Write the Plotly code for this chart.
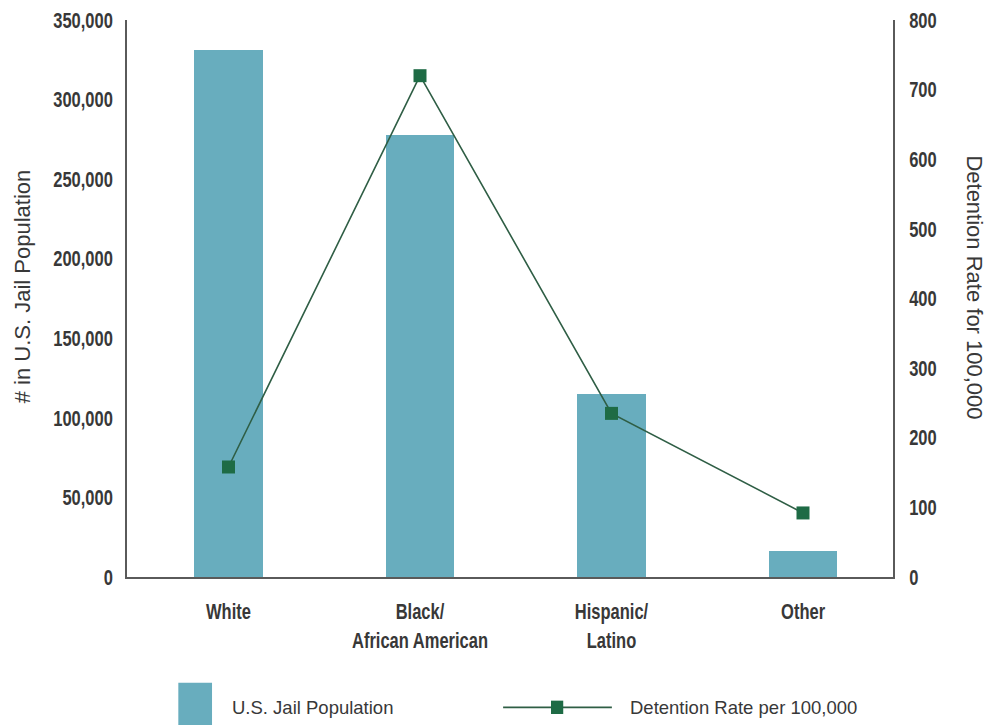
import plotly.graph_objects as go

# Data
categories = ["White", "Black/<br>African American", "Hispanic/<br>Latino", "Other"]
jail_population = [331000, 278000, 115000, 16500]
detention_rate = [158, 720, 235, 92]

left_ticks = [0, 50000, 100000, 150000, 200000, 250000, 300000, 350000]
right_ticks = [0, 100, 200, 300, 400, 500, 600, 700, 800]

BAR_COLOR = "#68adbe"
LINE_COLOR = "#2f5e45"
MARKER_COLOR = "#1e6b45"
AXIS_COLOR = "#5a5a5a"
TEXT_COLOR = "#383838"
BOLD = "Liberation Sans, Arial, sans-serif"
REGULAR = "Liberation Sans, Arial, sans-serif"

x_idx = list(range(len(categories)))

fig = go.Figure()
fig.add_trace(go.Bar(
    x=x_idx, y=jail_population, width=0.36,
    marker=dict(color=BAR_COLOR, line=dict(width=0)),
    name="U.S. Jail Population", yaxis="y",
))
fig.add_trace(go.Scatter(
    x=x_idx, y=detention_rate, mode="lines+markers",
    line=dict(color=LINE_COLOR, width=1.6),
    marker=dict(symbol="square", size=13, color=MARKER_COLOR),
    name="Detention Rate per 100,000", yaxis="y2",
))

tick_font = dict(family=BOLD, size=22, color=TEXT_COLOR, weight="bold")

fig.update_layout(
    width=996, height=725,
    margin=dict(l=127, r=103, t=20, b=148),
    paper_bgcolor="white", plot_bgcolor="white",
    showlegend=False,
    bargap=0,
    xaxis=dict(
        range=[-0.53, 3.47], automargin=False,
        tickmode="array", tickvals=x_idx, ticktext=categories,
        tickfont=tick_font, ticks="", ticklabelstandoff=14,
        showgrid=False, zeroline=False,
        showline=True, linecolor=AXIS_COLOR, linewidth=2,
    ),
    yaxis=dict(
        range=[0, 350000], automargin=False,
        tickmode="array", tickvals=left_ticks,
        ticktext=[f"{v:,}" for v in left_ticks],
        tickfont=tick_font, ticks="", ticklabelstandoff=8,
        showgrid=False, zeroline=False,
        showline=True, linecolor=AXIS_COLOR, linewidth=1.5,
    ),
    yaxis2=dict(
        range=[0, 800], overlaying="y", side="right", automargin=False,
        tickmode="array", tickvals=right_ticks,
        tickfont=tick_font, ticks="", ticklabelstandoff=10,
        showgrid=False, zeroline=False,
        showline=True, linecolor=AXIS_COLOR, linewidth=1.5,
    ),
)

# Axis titles
fig.add_annotation(
    text="# in U.S. Jail Population", textangle=-90,
    xref="paper", yref="paper", x=-0.137, y=0.522,
    xanchor="center", yanchor="middle", showarrow=False,
    font=dict(family=REGULAR, size=22, color=TEXT_COLOR),
)
fig.add_annotation(
    text="Detention Rate for 100,000", textangle=90,
    xref="paper", yref="paper", x=1.107, y=0.52,
    xanchor="center", yanchor="middle", showarrow=False,
    font=dict(family=REGULAR, size=22, color=TEXT_COLOR),
)

# Legend drawn below the chart
leg_y = -0.234
fig.add_shape(type="rect", xref="paper", yref="paper",
              x0=0.067, x1=0.111, y0=-0.27, y1=-0.19,
              fillcolor=BAR_COLOR, line=dict(width=0))
fig.add_annotation(text="U.S. Jail Population", xref="paper", yref="paper",
                   x=0.134, y=leg_y, xanchor="left", yanchor="middle",
                   showarrow=False, font=dict(family=REGULAR, size=18.5, color=TEXT_COLOR))
fig.add_shape(type="line", xref="paper", yref="paper",
              x0=0.491, x1=0.633, y0=leg_y, y1=leg_y,
              line=dict(color=LINE_COLOR, width=1.6))
fig.add_shape(type="rect", xref="paper", yref="paper",
              x0=0.5535, x1=0.5695, y0=leg_y - 0.012, y1=leg_y + 0.012,
              fillcolor=MARKER_COLOR, line=dict(width=0))
fig.add_annotation(text="Detention Rate per 100,000", xref="paper", yref="paper",
                   x=0.654, y=leg_y, xanchor="left", yanchor="middle",
                   showarrow=False, font=dict(family=REGULAR, size=18.5, color=TEXT_COLOR))

# Narrow the bold tick labels horizontally (condensed look), pivoting on each label's anchor
condense_js = """
var gd = document.getElementById('{plot_id}');
function condenseTicks() {
  var sets = [['.xtick text', 'c'], ['.ytick text', 'r'], ['.y2tick text', 'l']];
  sets.forEach(function (s) {
    gd.querySelectorAll(s[0]).forEach(function (t) {
      var b = t.getBBox();
      var px = s[1] === 'c' ? b.x + b.width / 2 : (s[1] === 'r' ? b.x + b.width : b.x);
      var tr = t.getAttribute('transform') || '';
      t.setAttribute('transform', tr + ' translate(' + px + ',0) scale(0.75,1) translate(' + (-px) + ',0)');
    });
  });
}
condenseTicks();
"""

fig.write_html("out.html", post_script=condense_js)
